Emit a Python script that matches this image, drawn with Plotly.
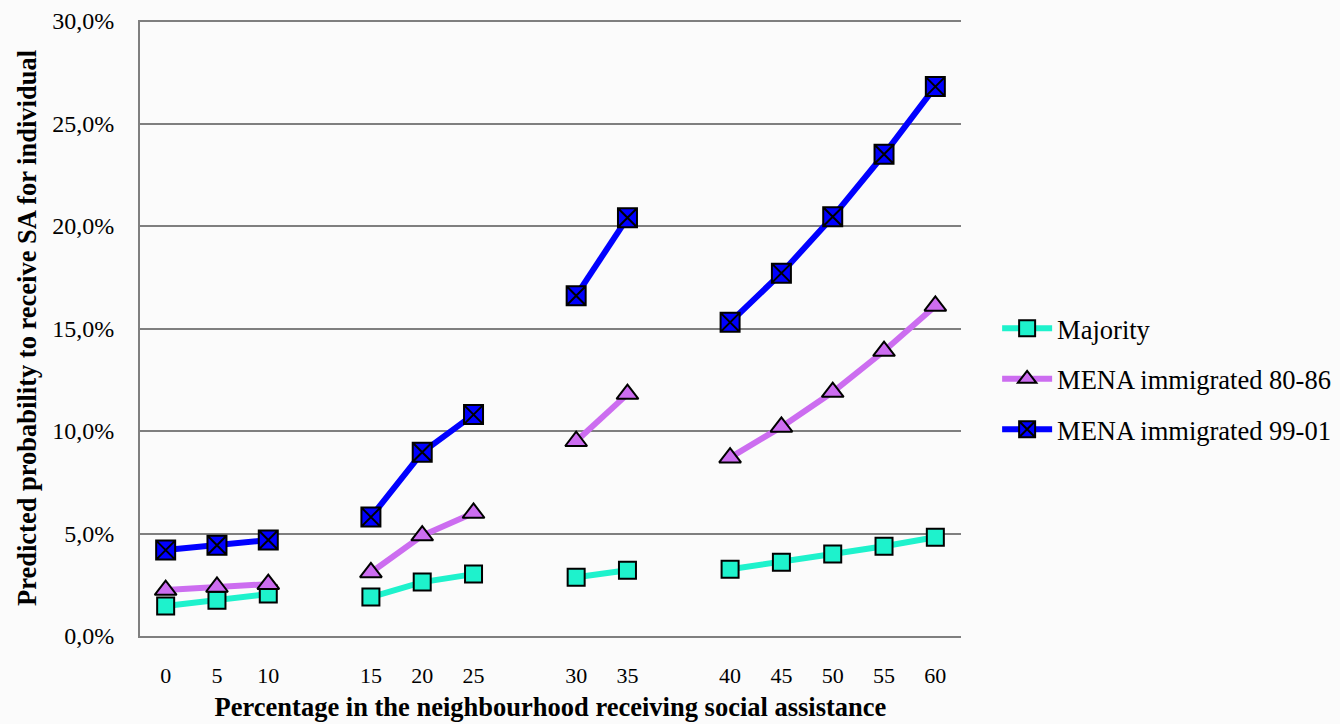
import plotly.graph_objects as go

# Category slots (blank entries are the visual gaps between groups)
categories = ["0", "5", "10", " ", "15", "20", "25", "  ", "30", "35", "   ", "40", "45", "50", "55", "60"]

majority = [1.46, 1.75, 2.05, None, 1.9, 2.63, 3.02, None, 2.87, 3.21, None, 3.26, 3.6, 4.0, 4.38, 4.82]
mena_80_86 = [2.24, 2.39, 2.53, None, 3.1, 4.9, 6.0, None, 9.5, 11.8, None, 8.7, 10.2, 11.9, 13.9, 16.1]
mena_99_01 = [4.19, 4.43, 4.68, None, 5.8, 8.96, 10.8, None, 16.6, 20.4, None, 15.3, 17.7, 20.45, 23.5, 26.8]

series_names = ["Majority", "MENA immigrated 80-86", "MENA immigrated 99-01"]
y_ticks = [0, 5, 10, 15, 20, 25, 30]
y_tick_labels = [f"{v:.1f}".replace(".", ",") + "%" for v in y_ticks]

SERIF = "Liberation Serif, Times New Roman, serif"

fig = go.Figure()
fig.add_trace(go.Scatter(
    x=categories, y=majority, name=series_names[0], mode="lines+markers",
    line=dict(color="#1ef2cc", width=6), connectgaps=False, legendgroup="a",
    marker=dict(symbol="square", size=17, color="#1ef2cc", line=dict(color="black", width=2)),
))
fig.add_trace(go.Scatter(
    x=categories, y=mena_80_86, name=series_names[1], mode="lines+markers",
    line=dict(color="#cc6df0", width=6), connectgaps=False, legendgroup="b",
    marker=dict(symbol="triangle-up", size=19, color="#cc6df0", line=dict(color="black", width=2)),
))
fig.add_trace(go.Scatter(
    x=categories, y=mena_99_01, name=series_names[2], mode="lines+markers",
    line=dict(color="#0000ff", width=6), connectgaps=False, legendgroup="c",
    marker=dict(symbol="square-x", size=19, color="#0000ff", line=dict(color="black", width=2)),
))

fig.update_layout(
    width=1340, height=724,
    margin=dict(l=140, r=379, t=20, b=88, autoexpand=False),
    paper_bgcolor="#fbfbfb", plot_bgcolor="#fbfbfb",
    font=dict(family=SERIF, color="black"),
    legend=dict(
        x=1.044, y=0.417, xanchor="left", yanchor="middle",
        font=dict(family=SERIF, size=26.5, color="black"),
        tracegroupgap=13, itemwidth=50, bgcolor="rgba(0,0,0,0)",
    ),
    showlegend=True,
)
fig.update_xaxes(
    type="category", categoryorder="array", categoryarray=categories,
    range=[-0.5, len(categories) - 0.5], automargin=False,
    showgrid=False, showline=True, linecolor="#7f7f7f", linewidth=2,
    ticks="", tickfont=dict(family=SERIF, size=22),
    ticklabelstandoff=19,
    title=dict(text="<b>Percentage in the neighbourhood receiving social assistance</b>",
               font=dict(family=SERIF, size=26.5), standoff=10),
)
fig.update_yaxes(
    range=[0, 30.05], tickvals=y_ticks, ticktext=y_tick_labels, automargin=False,
    showgrid=True, gridcolor="#7f7f7f", gridwidth=1.5,
    showline=True, linecolor="#7f7f7f", linewidth=2, zeroline=False,
    ticks="", tickfont=dict(family=SERIF, size=24),
    ticklabelstandoff=19,
    title=dict(text="<b>Predicted probability to receive SA for individual</b>",
               font=dict(family=SERIF, size=26.5), standoff=8),
)

fig.write_html("out.html", config={"displayModeBar": False},
               post_script="document.body.style.margin='0';")
